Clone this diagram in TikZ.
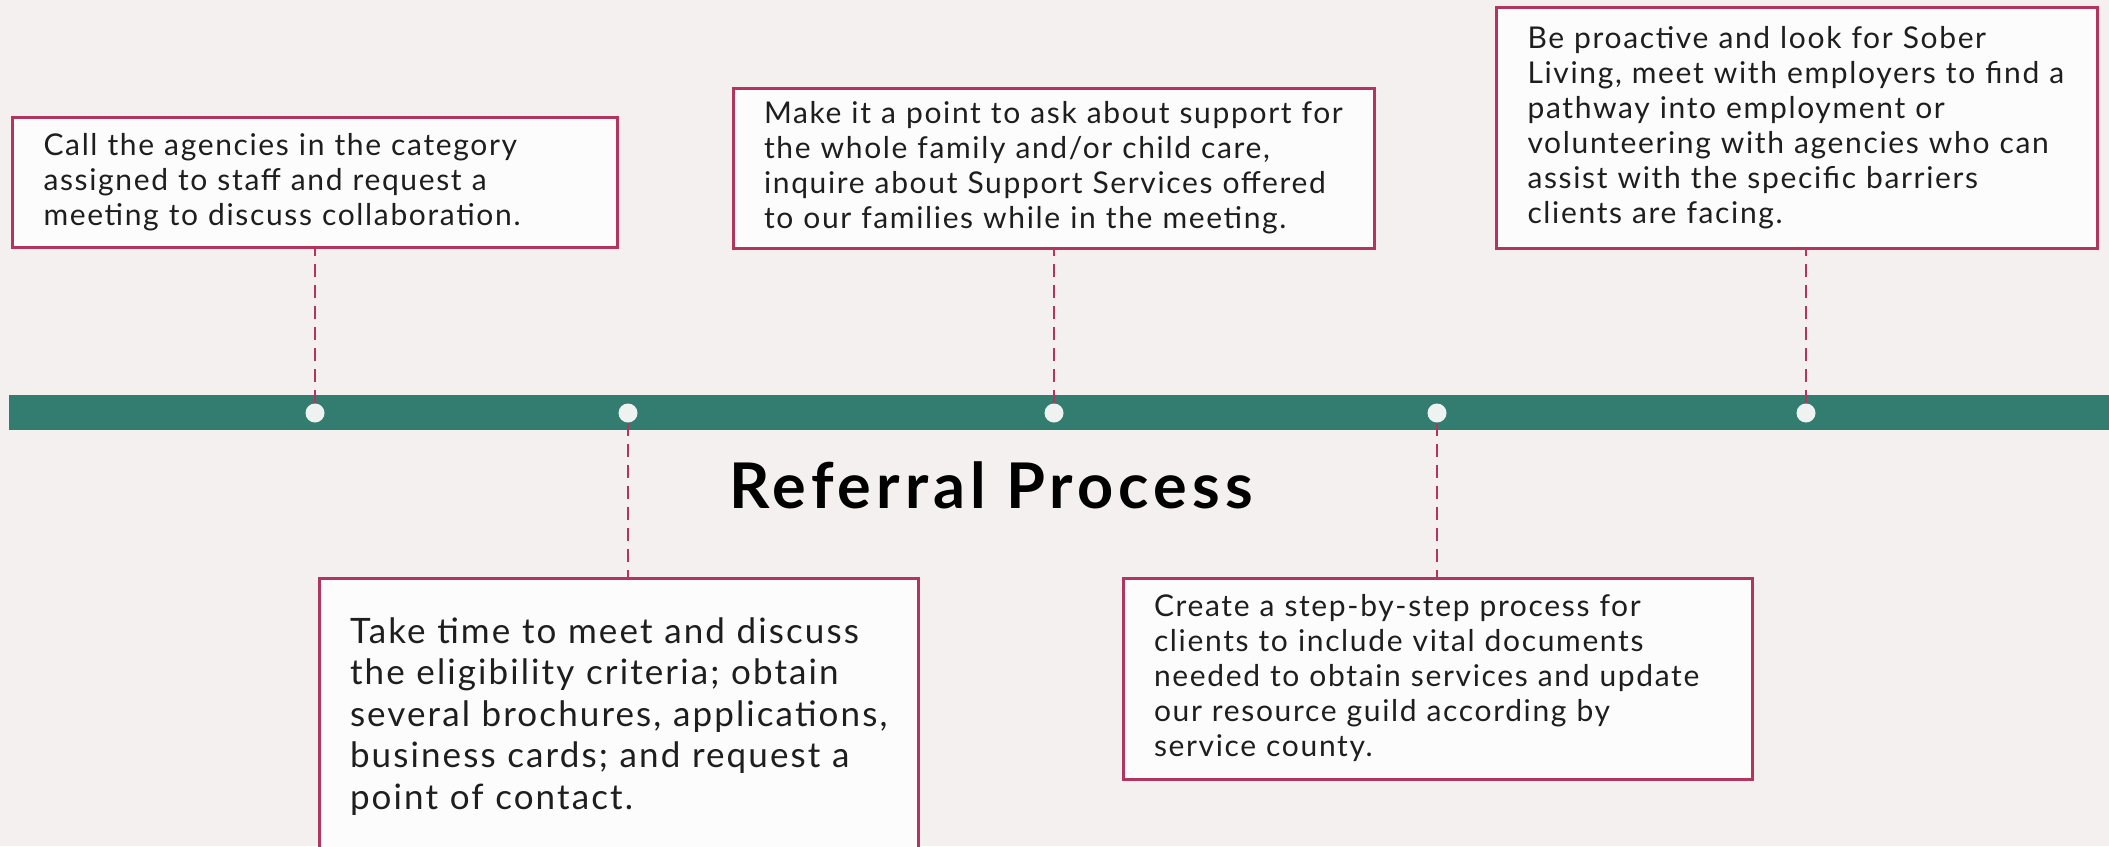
\documentclass[tikz,border=0pt]{standalone}
\usepackage{fontspec}
\setmainfont{Lato}
\newfontfamily\bodyfont[LetterSpace=5.5]{Lato}
\newfontfamily\bigbodyfont[LetterSpace=6]{Lato}
\newfontfamily\titlefont[LetterSpace=8]{Lato}
\usetikzlibrary{calc}

\definecolor{paper}{HTML}{F4F0EF}
\definecolor{teal}{HTML}{327D70}
\definecolor{rim}{HTML}{B3345E}
\definecolor{card}{HTML}{FCFCFC}
\definecolor{ink}{HTML}{1E1E1E}
\definecolor{dotcol}{HTML}{EEF2F1}

\tikzset{
  note/.style={draw=rim, line width=3pt, fill=card, text=ink,
    align=left, inner xsep=31pt, inner ysep=0pt,
    font=\bodyfont\fontsize{30}{35}\selectfont},
  dot/.style={circle, fill=dotcol, inner sep=0pt, minimum size=19pt},
  link/.style={rim, line width=2.5pt, dash pattern=on 13pt off 8pt}
}

\begin{document}
\begin{tikzpicture}[x=1pt, y=-1pt]
  % Background
  \fill[paper] (0,0) rectangle (2109,846);
  \clip (0,0) rectangle (2109,846);

  % Timeline bar
  \fill[teal] (9,395) rectangle (2109,430);

  % Title
  \node[anchor=base, text=black, font=\titlefont\fontsize{63}{70}\selectfont\bfseries]
    (title) at (991,508) {Referral Process};

  % Cards above the bar
  \node[note, text width=543pt, minimum height=130pt] (b1) at (315,182)
    {Call the agencies in the category\\assigned to staff and request a\\meeting to discuss collaboration.};
  \node[note, text width=579pt, minimum height=160pt] (b2) at (1053.5,168)
    {Make it a point to ask about support for\\the whole family and/or child care,\\inquire about Support Services offered\\to our families while in the meeting.};
  \node[note, text width=539pt, minimum height=241pt] (b3) at (1797,127.5)
    {Be proactive and look for Sober\\Living, meet with employers to find a\\pathway into employment or\\volunteering with agencies who can\\assist with the specific barriers\\clients are facing.};

  % Cards below the bar
  \node[note, text width=537pt, minimum height=277pt,
    font=\bigbodyfont\fontsize{35}{41.5}\selectfont] (b4) at (618.5,716.5)
    {Take time to meet and discuss\\the eligibility criteria; obtain\\several brochures, applications,\\business cards; and request a\\point of contact.};
  \node[note, text width=567pt, minimum height=201pt] (b5) at (1437.5,678.5)
    {Create a step-by-step process for\\clients to include vital documents\\needed to obtain services and update\\our resource guild according by\\service county.};

  % Dots on the bar
  \foreach \i/\x in {1/315, 2/628, 3/1054, 4/1437, 5/1806} {
    \node[dot] (d\i) at (\x,413) {};
  }

  % Dashed leaders from dots to cards
  \foreach \d/\b/\side in {1/1/south, 3/2/south, 5/3/south, 2/4/north, 4/5/north} {
    \draw[link] (d\d) -- (d\d |- b\b.\side);
  }
\end{tikzpicture}
\end{document}
